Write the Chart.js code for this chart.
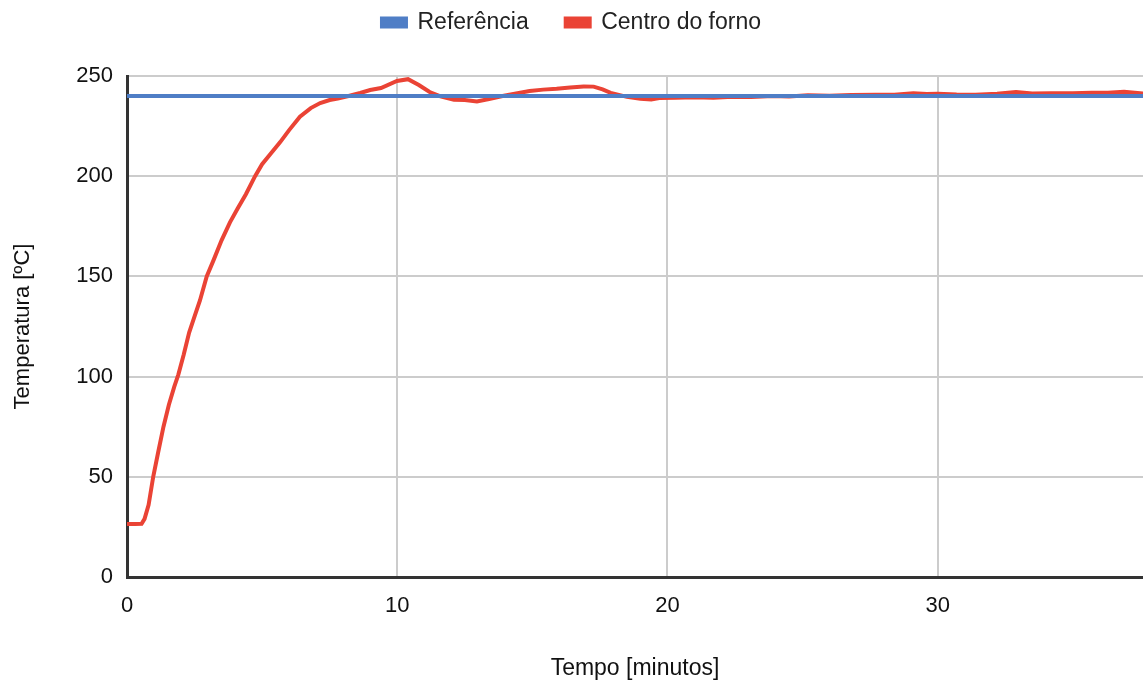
<!DOCTYPE html>
<html>
<head>
<meta charset="utf-8">
<script src="https://cdn.jsdelivr.net/npm/chart.js@4"></script>
<style>
  html, body { margin: 0; padding: 0; background: #fff; }
  #wrap { width: 1143px; height: 682px; }
</style>
</head>
<body>
<div id="wrap"><canvas id="chart" width="1143" height="682"></canvas></div>
<script>
// tempo em minutos, temperaturas em ºC
const tempo = [0, 0.3, 0.54, 0.65, 0.8, 0.97, 1.15, 1.35, 1.55, 1.75, 1.9, 2.1, 2.3, 2.5, 2.7, 2.95,
  3.2, 3.5, 3.81, 4.1, 4.4, 4.74, 5.0, 5.3, 5.67, 6.0, 6.4, 6.8, 7.15, 7.5, 7.8, 8.2, 8.63, 9.0, 9.4,
  9.99, 10.4, 10.8, 11.2, 11.6, 12.1, 12.5, 12.95, 13.4, 13.9, 14.4, 14.9, 15.4, 15.9, 16.4, 16.9,
  17.27, 17.6, 17.9, 18.5, 19.0, 19.4, 19.7, 20.3, 21, 21.7, 22.4, 23.1, 23.9, 24.5, 25.2, 26, 26.8,
  27.7, 28.4, 29.1, 29.6, 30, 30.7, 31.4, 32.2, 32.9, 33.5, 34.2, 35, 35.7, 36.3, 36.9, 37.6];
const centroForno = [26.4, 26.4, 26.6, 29, 36, 50, 62, 75, 86, 95, 101, 111, 122, 130, 138, 150,
  158, 168, 177, 184, 191, 200, 206, 211, 217, 223, 229.7, 234, 236.5, 238, 238.7, 240, 241.5, 243, 244,
  247.5, 248.4, 245.5, 242, 239.8, 238.2, 238, 237.3, 238.5, 240, 241.3, 242.5, 243.2, 243.6, 244.3, 244.8,
  244.7, 243.3, 241.6, 239.6, 238.6, 238.3, 239, 239.1, 239.4, 239.2, 239.6, 239.5, 240, 239.8, 240.4, 240.2, 240.5,
  240.6, 240.7, 241.4, 241, 241.2, 240.8, 240.7, 241.2, 242, 241.3, 241.4, 241.4, 241.6, 241.7, 242.1, 241.3];
const refTempo = [0, 37.6];
const referencia = [240, 240];
const xTicks = [0, 10, 20, 30];
const yTicks = [0, 50, 100, 150, 200, 250];

const FONT = "'Liberation Sans', Arial, sans-serif";
Chart.defaults.font.family = FONT;
Chart.defaults.color = '#222';

const toPts = (xs, ys) => xs.map((x, i) => ({ x: x, y: ys[i] }));

// legenda ocupa o topo (76px) mas desenha os itens mais acima
const legendBox = {
  id: 'legendBox',
  beforeInit(chart) {
    const fit = chart.legend.fit;
    chart.legend.fit = function () { fit.call(this); this.height = 76; };
  },
  afterLayout(chart) { chart.legend.top = -26; }
};

new Chart(document.getElementById('chart'), {
  type: 'line',
  data: {
    datasets: [
      { label: 'Referência', data: toPts(refTempo, referencia), borderColor: '#4f7ec6', backgroundColor: '#4f7ec6',
        borderWidth: 4, pointRadius: 0, tension: 0 },
      { label: 'Centro do forno', data: toPts(tempo, centroForno), borderColor: '#ea4335', backgroundColor: '#ea4335',
        borderWidth: 4, pointRadius: 0, tension: 0 }
    ]
  },
  plugins: [legendBox],
  options: {
    responsive: false,
    animation: false,
    layout: { padding: { top: 0, right: 0, bottom: 0, left: 0 } },
    plugins: {
      legend: {
        position: 'top',
        labels: { boxWidth: 24, boxHeight: 8, padding: 37, font: { size: 23 }, color: '#222' }
      },
      tooltip: { enabled: false }
    },
    scales: {
      x: {
        type: 'linear', min: 0, max: 37.6,
        afterBuildTicks: s => { s.ticks = xTicks.map(v => ({ value: v })); },
        afterFit: s => { s.height = 105; },
        grid: { color: '#cccccc', lineWidth: 2, drawTicks: false },
        border: { color: '#333', width: 3 },
        ticks: { padding: 16, font: { size: 22 }, color: '#111', maxRotation: 0 },
        title: { display: true, text: 'Tempo [minutos]', font: { size: 23 }, color: '#111', padding: { top: 10, bottom: 0 } }
      },
      y: {
        min: 0, max: 250,
        afterBuildTicks: s => { s.ticks = yTicks.map(v => ({ value: v })); },
        afterFit: s => { s.width = 127; },
        grid: { color: '#cccccc', lineWidth: 2, drawTicks: false },
        border: { color: '#333', width: 3 },
        ticks: { padding: 14, font: { size: 22 }, color: '#111' },
        title: { display: true, text: 'Temperatura [ºC]', font: { size: 22 }, color: '#111', padding: { top: 10, bottom: 10 } }
      }
    }
  }
});
</script>
</body>
</html>
